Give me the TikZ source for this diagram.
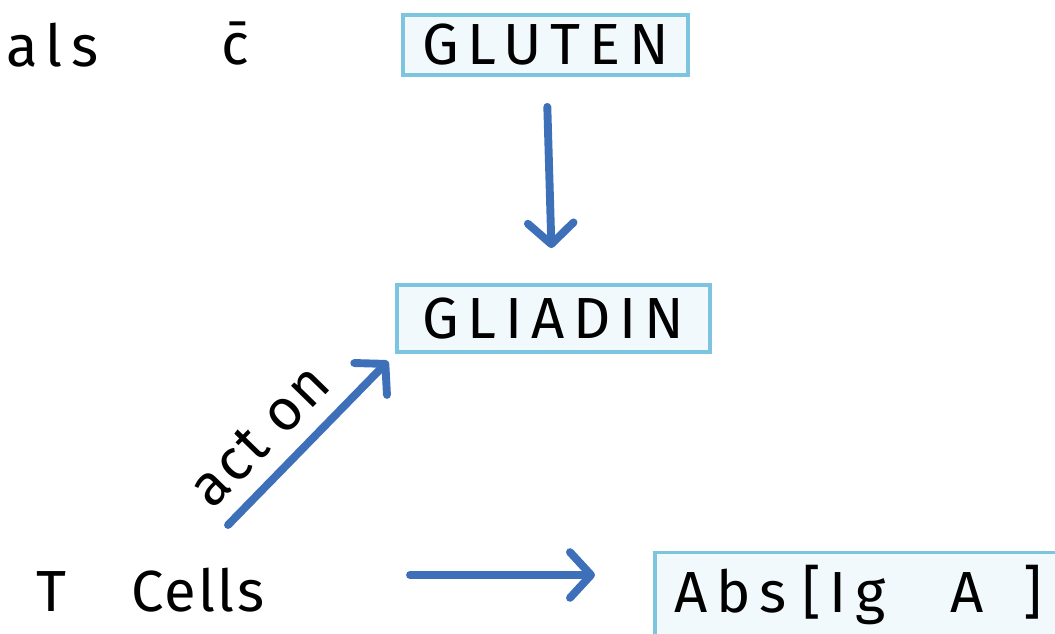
\documentclass[tikz,border=0pt]{standalone}
\usepackage{fontspec}
\usepackage{xcolor}
\usepackage{tikz}
\usetikzlibrary{arrows.meta}
\newfontfamily\handfont[LetterSpace=15]{Fira Sans}
\newfontfamily\tightfont[LetterSpace=4]{Fira Sans}
\definecolor{boxline}{RGB}{125,196,222}
\definecolor{boxfill}{RGB}{242,249,252}
\definecolor{arrowblue}{RGB}{62,112,186}

\begin{document}
\begin{tikzpicture}[x=0.02cm, y=-0.02cm,
    hand/.style={font=\handfont\fontsize{33}{38}\selectfont},
    tight/.style={font=\tightfont\fontsize{33}{38}\selectfont},
    termbox/.style={hand, draw=boxline, line width=2.2pt, fill=boxfill, inner sep=0pt},
    flow/.style={draw=arrowblue, line width=4.5pt, line cap=round,
      -{Straight Barb[length=12pt, width=26pt, line width=4.5pt, round]}}]
  \useasboundingbox (0,0) rectangle (1055,634);
  \clip (0,0) rectangle (1055,634);

  % ---- loose words ----
  \node[hand, anchor=west] (als) at (0,45) {als};
  \node[hand] (with) at (235,44) {\={c}};
  \node[tight, anchor=west] (tcells) at (30,590) {T\hspace{1.3cm}Cells};

  % ---- boxed terms ----
  \node[termbox, minimum width=5.7cm, minimum height=1.2cm] (gluten) at (545.5,45) {GLUTEN};
  \node[termbox, minimum width=6.26cm, minimum height=1.34cm] (gliadin) at (553.5,318.5) {GLIADIN};
  \node[termbox, anchor=west, minimum height=1.7cm,
        align=left, text width=8.4cm] (abs) at (653,595)
        {\hspace*{0.4cm}Abs\hspace{0.3cm}[Ig\hspace{1.3cm}A\hspace{0.8cm}]};

  % ---- arrows ----
  \draw[flow, shorten <=0.6cm, shorten >=0.7cm] (gluten) -- (gliadin);
  \coordinate (actfoot) at (228,525);
  \draw[flow, shorten >=0.2cm] (actfoot) -- (gliadin.south west)
    node[tight, pos=0.36, above=6pt, sloped] {act on};
  \coordinate (tcellsout) at (410,575);
  \draw[flow, shorten >=1.16cm] (tcellsout) -- (tcellsout -| abs.west);
\end{tikzpicture}
\end{document}
